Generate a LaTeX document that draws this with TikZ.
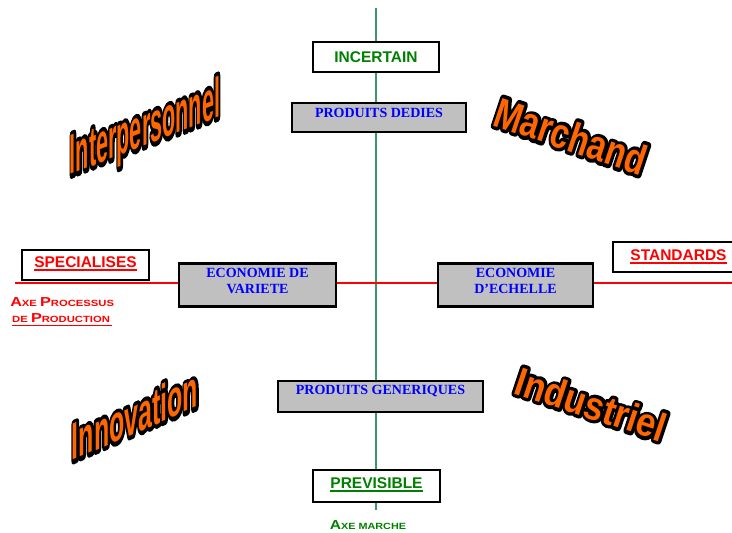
\documentclass[tikz,border=0pt]{standalone}
\usepackage{fontspec}
\setmainfont{Liberation Serif}
\setsansfont{Liberation Sans}
\usepackage{xcolor}
\usepackage{tikz}

\definecolor{axevert}{RGB}{60,150,108}
\definecolor{vertfonce}{RGB}{0,128,0}
\definecolor{gris}{RGB}{192,192,192}
\definecolor{orangeart}{RGB}{255,102,0}

% texte souligne d'un trait epais
\newcommand{\souligne}[1]{\setbox0=\hbox{#1}\rlap{\copy0}\rule[-3.5pt]{\wd0}{1.8pt}}
% grandes lettres des petites capitales
\newcommand{\grande}[1]{{\fontsize{13}{13}\selectfont #1}}
% texte facon WordArt : contour noir epais sous le remplissage orange
\newcommand{\contour}[1]{\rlap{\special{pdf:literal direct 1 Tr 0 0 0 RG 3.4 w 1 j}#1\special{pdf:literal direct 0 Tr}}#1}

\begin{document}
\begin{tikzpicture}[x=1pt,y=1pt,
    cadre/.style={draw=black,line width=2.2pt,fill=white,inner sep=0pt},
    cadregris/.style={cadre,fill=gris},
    bleu/.style={font=\rmfamily\bfseries\fontsize{14}{16}\selectfont,text=blue,align=center,inner sep=0pt},
    vert/.style={font=\sffamily\bfseries\fontsize{15.5}{16}\selectfont,text=vertfonce,inner sep=0pt},
    rouge/.style={font=\sffamily\bfseries\fontsize{15.5}{16}\selectfont,text=red,inner sep=0pt},
    artmot/.style={font=\sffamily\bfseries\fontsize{20}{20}\selectfont,text=orangeart,inner sep=0pt}]
  \clip (0,0) rectangle (732,533);

  % les deux axes
  \coordinate (vh) at (376,525);
  \coordinate (vb) at (376,23);
  \coordinate (hg) at (15,250);
  \coordinate (hd) at (740,250);
  \draw[axevert,line width=2.6pt] (vh) -- (vb);
  \draw[red,line width=2.6pt] (hg) -- (hd);

  % axe marche
  \node[cadre,minimum width=126,minimum height=30] (incertain) at (376,476) {};
  \node[vert] (incertainT) at (incertain) {INCERTAIN};
  \node[cadregris,minimum width=174,minimum height=29] (dedies) at (379,415.5) {};
  \node[bleu] (dediesT) at ([yshift=5]dedies.center) {PRODUITS DEDIES};
  \node[cadregris,minimum width=205,minimum height=31] (generiques) at (380.5,136.5) {};
  \node[bleu] (generiquesT) at ([yshift=5]generiques.center) {PRODUITS GENERIQUES};
  \node[cadre,minimum width=127,minimum height=32] (previsible) at (376.5,47) {};
  \node[vert] (previsibleT) at ([yshift=1]previsible.center) {\souligne{PREVISIBLE}};
  \node[font=\sffamily\bfseries\fontsize{9}{9}\selectfont,text=vertfonce,anchor=base,xscale=1.2,inner sep=0pt] (axemarche) at (368,3) {\grande{A}XE MARCHE};

  % axe processus de production
  \node[cadregris,minimum width=157,minimum height=43] (variete) at (257.5,248) {};
  \node[bleu] (varieteT) at ([yshift=4]variete.center) {ECONOMIE DE\\VARIETE};
  \node[cadregris,minimum width=155,minimum height=43] (echelle) at (515.5,248) {};
  \node[bleu] (echelleT) at ([yshift=4]echelle.center) {ECONOMIE\\D'ECHELLE};
  \node[cadre,minimum width=127,minimum height=30] (specialises) at (85.5,268) {};
  \node[rouge] (specialisesT) at ([yshift=1]specialises.center) {\souligne{SPECIALISES}};
  \node[cadre,minimum width=134,minimum height=30,anchor=west] (standards) at (612,276) {};
  \node[rouge] (standardsT) at (678.5,276.5) {\souligne{STANDARDS}};
  \node[font=\sffamily\bfseries\fontsize{9}{9}\selectfont,text=red,anchor=base west,xscale=1.25,inner sep=0pt] (axeproc1) at (10,226) {\grande{A}XE \grande{P}ROCESSUS};
  \node[font=\sffamily\bfseries\fontsize{9}{9}\selectfont,text=red,anchor=base west,xscale=1.25,inner sep=0pt] (axeproc2) at (12,210) {\souligne{DE \grande{P}RODUCTION\,}};

  % les quatre mondes
  \node[artmot,yslant=0.39,xscale=1.08,yscale=2.8] (inter) at (145,402) {\contour{Interpersonnel}};
  \node[artmot,yslant=-0.34,xslant=0.3,xscale=1.58,yscale=2.24] (march) at (571,397) {\contour{Marchand}};
  \node[artmot,yslant=0.43,xscale=1.25,yscale=2.6] (innov) at (135,118) {\contour{Innovation}};
  \node[artmot,yslant=-0.33,xslant=0.3,xscale=1.65,yscale=2.1] (indus) at (591,129) {\contour{Industriel}};
\end{tikzpicture}
\end{document}
